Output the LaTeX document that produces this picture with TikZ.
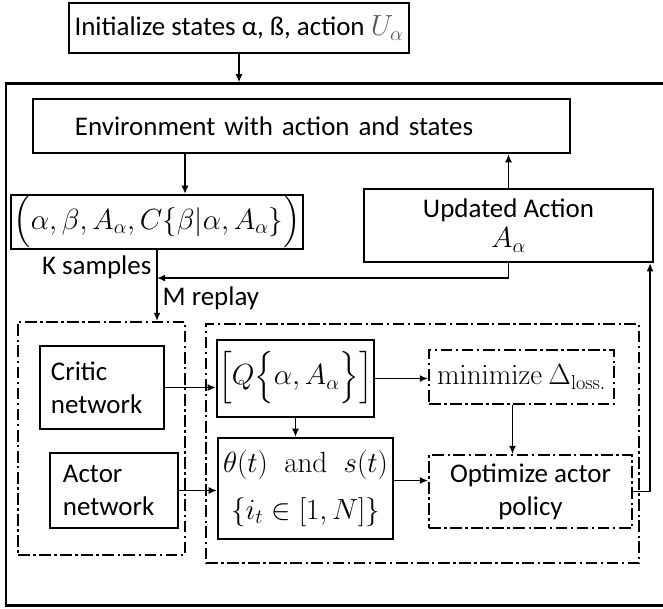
\documentclass[tikz,border=0pt]{standalone}
\usepackage{amsmath}
\usepackage[no-math]{fontspec}
\setmainfont{Carlito}
\usepackage{tikz}
\usetikzlibrary{calc,positioning,arrows.meta}

\tikzset{
  box/.style={draw, line width=1.8pt, align=center, inner sep=2pt},
  grp/.style={draw, line width=1.6pt, dash pattern=on 10pt off 3pt on 2pt off 3pt},
  arr/.style={-{Latex[length=7pt,width=6pt]}, line width=1.6pt},
}
\newcommand{\tallstrut}[2]{\vrule height #1 depth #2 width 0pt}

\begin{document}
\begin{tikzpicture}[x=0.03cm, y=-0.03cm, every node/.style={font=\fontsize{23}{28}\selectfont}]
  \useasboundingbox (0,0) rectangle (663,609);

  % outer loop and the two dash-dot groups
  \node[box, minimum width=19.74cm, minimum height=15.66cm] (loop) at (335,344.5) {};
  \node[grp, minimum width=5.01cm, minimum height=6.99cm] (leftgrp) at (101.5,438.5) {};
  \node[grp, minimum width=12.99cm, minimum height=7.17cm] (rightgrp) at (422.5,443.5) {};

  % nodes
  \node[box, minimum width=10.2cm, minimum height=1.5cm] (init) at (239,28)
    {Initialize states α, ß, action {\color{black!65}$U_\alpha$}};
  \node[box, text width=13.59cm, inner xsep=1.26cm, align=left, minimum height=1.62cm] (env) at (301.5,126)
    {Environment with action and states};
  \node[box, minimum width=8.7cm, minimum height=1.62cm, inner ysep=0pt] (tuple) at (157,222)
    {$\left(\tallstrut{22pt}{15pt}\alpha,\beta,A_\alpha,C\{\beta|\alpha,A_\alpha\}\right)$};
  \node[box, minimum width=8.67cm, minimum height=2.19cm] (upd) at (508.5,225.5)
    {Updated Action\\[-2pt] $A_\alpha$};

  \node[box, text width=3.06cm, inner xsep=0.33cm, minimum height=2.49cm, align=left] (critic) at (102,387.5)
    {Critic\\network};
  \node[box, text width=3.06cm, inner xsep=0.39cm, minimum height=2.25cm, align=left] (actor) at (114,490.5)
    {Actor\\network};
  \node[box, minimum width=4.65cm, minimum height=2.31cm, inner xsep=1pt, inner ysep=0pt] (qbox) at (295.5,378.5)
    {$\left[\tallstrut{25pt}{18pt}Q\!\left\{\tallstrut{21pt}{14pt}\alpha,A_\alpha\right\}\right]$};
  \node[box, minimum width=5.25cm, minimum height=3.03cm] (theta) at (305.5,488.5)
    {$\theta(t)\;\;\mathrm{and}\;\;s(t)$\\[12pt] $\{i_t\in[1,N]\}$};
  \node[grp, minimum width=5.55cm, minimum height=1.62cm] (minbox) at (521.5,377)
    {$\mathrm{minimize}\ \Delta_{\mathrm{loss.}}$};
  \node[grp, minimum width=6.09cm, minimum height=2.19cm, align=center] (optbox) at (530.5,491.5)
    {Optimize actor\\policy};

  % connections
  \draw[arr] (init.south) -- (init.south |- loop.north);
  \coordinate (dn) at ($(tuple.north)+(28,0)$);
  \draw[arr] (dn |- env.south) -- (dn);
  \draw[arr] (upd.north) -- (upd.north |- env.south);
  \draw[arr] (tuple.south) -- (tuple.south |- leftgrp.north)
    node[pos=0.24, left, inner sep=4pt] (ksamp) {K samples}
    node[pos=0.68, right, inner sep=4pt] (mrep) {M replay};
  \draw[arr] (upd.south) |- ($(tuple.south)+(0,28)$);

  \draw[arr] (critic.east) -- (critic.east -| qbox.west);
  \draw[arr] (actor.east) -- (actor.east -| theta.west);
  \draw[arr] (qbox.east) -- (qbox.east -| minbox.west);
  \draw[arr] (qbox.south) -- (qbox.south |- theta.north);
  \draw[arr] ($(minbox.south)+(-9,0)$) -- ($(minbox.south |- optbox.north)+(-9,0)$);
  \draw[arr] ($(theta.east)+(0,-8)$) -- ($(theta.east -| optbox.west)+(0,-8)$);
  \draw[arr] (optbox.east) -| ($(upd.south east)+(-4,0)$);
\end{tikzpicture}
\end{document}
